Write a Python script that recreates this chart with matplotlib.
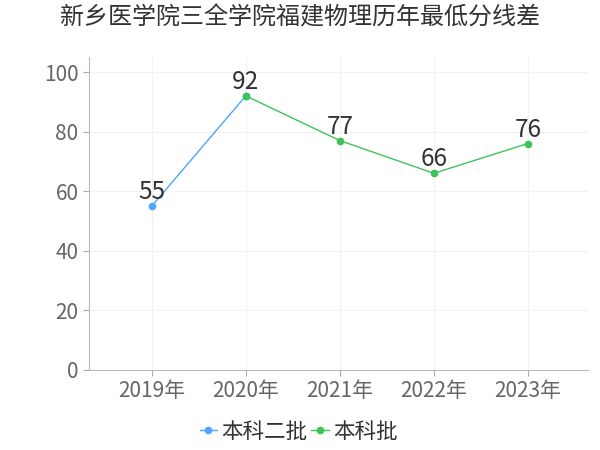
import matplotlib
matplotlib.use("Agg")
import matplotlib.pyplot as plt

plt.rcParams['font.family'] = ['Noto Sans CJK SC', 'DejaVu Sans']

# data
years = ['2019年', '2020年', '2021年', '2022年', '2023年']
erpi_x = [0, 1]
erpi_vals = [55, 92]
benke_x = [1, 2, 3, 4]
benke_vals = [92, 77, 66, 76]

blue = '#4da6ff'
green = '#3cc45a'

fig = plt.figure(figsize=(6, 4.5), dpi=100)
ax = fig.add_axes([0.148, 0.178, 0.832, 0.695])

ax.plot(erpi_x, erpi_vals, color=blue, lw=1, marker='o', ms=4.5, label='本科二批')
ax.plot(benke_x, benke_vals, color=green, lw=1, marker='o', ms=4.5, label='本科批')

# point labels
for x, v in zip(erpi_x[:1], erpi_vals[:1]):
    ax.text(x, v + 0.3, str(v), ha='center', va='bottom', fontsize=17.5, color='#333333')
for x, v in zip(benke_x, benke_vals):
    ax.text(x, v + 0.3, str(v), ha='center', va='bottom', fontsize=17.5, color='#333333')

ax.set_xlim(-0.67, 4.64)
ax.set_ylim(0, 105)
ax.set_yticks([0, 20, 40, 60, 80, 100])
ax.set_xticks(range(len(years)))
ax.set_xticklabels(years)
ax.tick_params(axis='both', labelsize=15, colors='#aaaaaa', labelcolor='#666666', length=4)
ax.grid(True, color='#f2f2f2', lw=0.8)
ax.set_axisbelow(True)

for s in ['top', 'right']:
    ax.spines[s].set_visible(False)
for s in ['left', 'bottom']:
    ax.spines[s].set_color('#bbbbbb')

fig.suptitle('新乡医学院三全学院福建物理历年最低分线差', fontsize=17.3, color='#333333', y=0.99)

ax.legend(loc='upper center', bbox_to_anchor=(0.42, -0.1), ncol=2, frameon=False,
          fontsize=15.5, handlelength=0.8, handletextpad=0.2, columnspacing=0.2,
          labelcolor='#333333')

fig.savefig('out.png', dpi=100)
